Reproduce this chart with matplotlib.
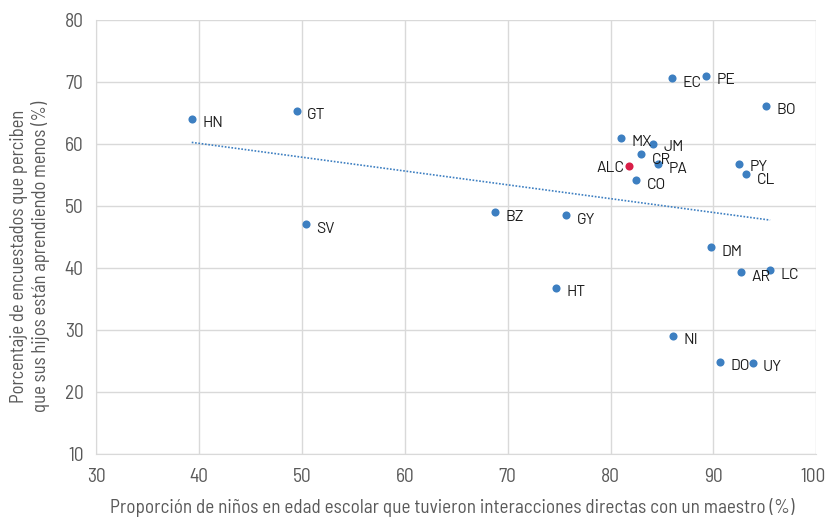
import numpy as np
import matplotlib
matplotlib.use("Agg")
import matplotlib.pyplot as plt
import matplotlib.transforms as mtransforms

plt.rcParams['font.family'] = ['Barlow Semi Condensed', 'Roboto', 'DejaVu Sans']
label_family = ['Barlow', 'Roboto', 'DejaVu Sans']

countries = ["HN", "GT", "SV", "BZ", "GY", "HT", "EC", "PE", "BO", "MX", "JM", "CR",
             "PA", "CO", "PY", "CL", "DM", "AR", "LC", "NI", "DO", "UY"]
x_vals = [39.3, 49.5, 50.4, 68.8, 75.7, 74.7, 86.0, 89.3, 95.1, 81.0, 84.1, 83.0,
          84.6, 82.5, 92.5, 93.2, 89.8, 92.7, 95.5, 86.1, 90.6, 93.8]
y_vals = [64.1, 65.4, 47.1, 49.0, 48.5, 36.8, 70.6, 71.0, 66.2, 61.0, 60.0, 58.4,
          56.7, 54.2, 56.8, 55.1, 43.4, 39.3, 39.6, 29.1, 24.9, 24.7]
alc_x, alc_y = 81.8, 56.5

blue = "#3d7fc1"
red = "#d91e48"
gray = "#595959"

fig = plt.figure(figsize=(8.28, 5.18), dpi=100)
ax = fig.add_axes([0.116, 0.1236, 0.87, 0.8378])

ax.set_xlim(30, 100)
ax.set_ylim(10, 80)
ax.set_xticks(range(30, 101, 10))
ax.set_yticks(range(10, 81, 10))
ax.grid(True, color="#d9d9d9", linewidth=1)
ax.set_axisbelow(True)
for s in ["top", "right"]:
    ax.spines[s].set_visible(False)
for s in ["left", "bottom"]:
    ax.spines[s].set_color("#d9d9d9")
ax.tick_params(length=0, labelsize=14, labelcolor=gray)
ax.tick_params(axis="y", pad=9)
ax.tick_params(axis="x", pad=10)

# nudge the last x tick label inside the figure
lbl = ax.get_xticklabels()[-1]
lbl.set_transform(lbl.get_transform() + mtransforms.ScaledTranslation(-3 / 100, 0, fig.dpi_scale_trans))

# trend line
xa = np.array(x_vals)
ya = np.array(y_vals)
m, b = np.polyfit(xa, ya, 1)
xs = np.array([xa.min(), xa.max()])
ax.plot(xs, m * xs + b, linestyle=(0, (1, 1)), color=blue, linewidth=1.2)

ax.scatter(x_vals, y_vals, s=34, color=blue, zorder=3, linewidths=0)
ax.scatter([alc_x], [alc_y], s=34, color=red, zorder=3, linewidths=0)

offsets = {"PY": (7.5, -5.3), "CL": (7.5, -6.9), "JM": (7.5, -5.3), "CR": (7.5, -7.0)}
for c, xv, yv in zip(countries, x_vals, y_vals):
    dx, dy = offsets.get(c, (7.5, -6.2))
    ax.annotate(c, (xv, yv), xytext=(dx, dy), textcoords="offset points",
                va="baseline", ha="left", fontsize=11.3, color="#1a1a1a",
                family=label_family)
ax.annotate("ALC", (alc_x, alc_y), xytext=(-3.5, -4.5), textcoords="offset points",
            va="baseline", ha="right", fontsize=11.3, color="#1a1a1a",
            family=label_family)

ax.set_xlabel("Proporción de niños en edad escolar que tuvieron interacciones directas con un maestro (%)",
              fontsize=13.8, color=gray)
ax.xaxis.label.set_va("center")
ax.xaxis.set_label_coords(0.494, -0.1244)
ax.set_ylabel("Porcentaje de encuestados que perciben\nque sus hijos están aprendiendo menos (%)",
              fontsize=13.4, color=gray, linespacing=1.15)
ax.yaxis.label.set_va("center")
ax.yaxis.set_label_coords(-0.0916, 0.456)

fig.savefig("out.png", dpi=100)
